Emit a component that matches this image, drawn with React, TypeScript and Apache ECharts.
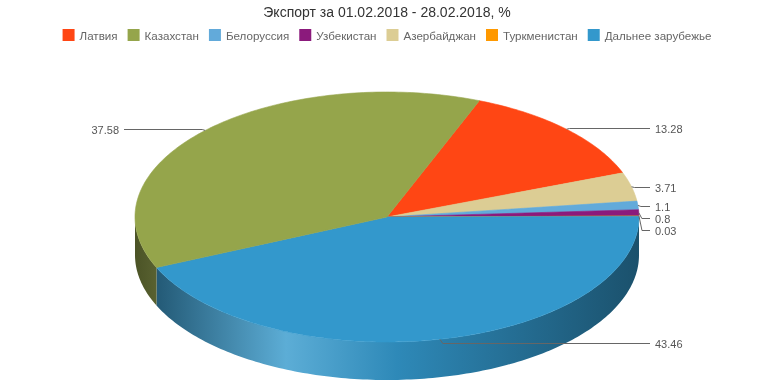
import React, { useEffect, useRef } from 'react';
import * as echarts from 'echarts';

const titleText = 'Экспорт за 01.02.2018 - 28.02.2018, %';
const legendNames = ['Латвия', 'Казахстан', 'Белоруссия', 'Узбекистан', 'Азербайджан', 'Туркменистан', 'Дальнее зарубежье'];
const legendColors = ['#FF4614', '#95A54B', '#62AADA', '#8B1A7C', '#DCCD94', '#FF9900', '#3398CC'];
// slices in the order they run clockwise around the pie
const sliceNames = ['Латвия', 'Азербайджан', 'Белоруссия', 'Узбекистан', 'Туркменистан', 'Дальнее зарубежье', 'Казахстан'];
const sliceValues = [13.28, 3.71, 1.1, 0.8, 0.03, 43.46, 37.58];

const FONT = '"Liberation Sans", Arial, Helvetica, sans-serif';
const CY = 217;
const RX = 252;
const RY = 125;
const DEPTH = 38;
const START_ANGLE = -68.5;
const LABEL_R = 128;
const LABEL_GAP = 12;

const colorOf = (name: string) => legendColors[legendNames.indexOf(name)];

function mix(hex: string, target: number, t: number) {
  const n = parseInt(hex.slice(1), 16);
  const r = (n >> 16) & 255, g = (n >> 8) & 255, b = n & 255;
  const f = (c: number) => Math.round(c + (target - c) * t);
  return `rgb(${f(r)},${f(g)},${f(b)})`;
}

export default function App() {
  const ref = useRef<HTMLDivElement>(null);
  useEffect(() => {
    if (!ref.current) return;
    const chart = echarts.init(ref.current, undefined, { renderer: 'svg' });
    const W = chart.getWidth();
    const CX = W / 2;
    const total = sliceValues.reduce((a, b) => a + b, 0);

    const pt = (deg: number, dy = 0) => {
      const r = (deg * Math.PI) / 180;
      return [CX + RX * Math.cos(r), CY + RY * Math.sin(r) + dy];
    };
    const arc = (a: number, b: number, dy = 0) => {
      const pts: number[][] = [];
      const n = Math.max(1, Math.ceil(Math.abs(b - a)));
      for (let k = 0; k <= n; k++) pts.push(pt(a + ((b - a) * k) / n, dy));
      return pts;
    };

    // slice angles
    const angles: { a: number; b: number; m: number }[] = [];
    let acc = START_ANGLE;
    sliceValues.forEach((v) => {
      const span = (v / total) * 360;
      angles.push({ a: acc, b: acc + span, m: acc + span / 2 });
      acc += span;
    });

    // label layout with overlap resolution
    const labels = angles.map((g, i) => {
      const r = (g.m * Math.PI) / 180;
      const right = Math.cos(r) >= 0;
      return { i, right, y: CY + 1 + LABEL_R * Math.sin(r), ex: CX + RX * Math.cos(r), ey: CY + RY * Math.sin(r) };
    });
    [true, false].forEach((side) => {
      const group = labels.filter((l) => l.right === side).sort((p, q) => p.y - q.y);
      for (let k = 1; k < group.length; k++) {
        if (group[k].y < group[k - 1].y + LABEL_GAP) group[k].y = group[k - 1].y + LABEL_GAP;
      }
    });
    const labelOf = (i: number) => labels.find((l) => l.i === i)!;

    const wallFill = (c: string) =>
      new echarts.graphic.LinearGradient(
        CX - RX, 0, CX + RX, 0,
        [
          { offset: 0, color: mix(c, 0, 0.5) },
          { offset: 0.3, color: mix(c, 255, 0.2) },
          { offset: 0.52, color: mix(c, 0, 0.1) },
          { offset: 0.82, color: mix(c, 0, 0.33) },
          { offset: 1, color: mix(c, 0, 0.47) },
        ],
        true
      );

    const series = sliceNames.map((name, i) => ({
      type: 'custom',
      name,
      coordinateSystem: 'none',
      data: [[sliceValues[i]]],
      itemStyle: { color: colorOf(name) },
      renderItem: (_params: any, api: any) => {
        const value = api.value(0);
        const color = colorOf(name);
        const { a } = angles[i];
        const b = a + (value / total) * 360;
        const children: any[] = [];
        // front side wall
        [[0, 180], [360, 540]].forEach(([f0, f1]) => {
          const s = Math.max(a, f0);
          const e = Math.min(b, f1);
          if (e > s) {
            const top = arc(s, e);
            const bottom = arc(e, s, DEPTH);
            children.push({
              type: 'polygon',
              z2: 1,
              shape: { points: top.concat(bottom) },
              style: { fill: wallFill(color), stroke: null },
            });
          }
        });
        // top face
        children.push({
          type: 'polygon',
          z2: 2,
          shape: { points: [[CX, CY]].concat(arc(a, b)) },
          style: { fill: color, stroke: color, lineWidth: 0.6 },
        });
        // label + connector
        const l = labelOf(i);
        const dir = l.right ? 1 : -1;
        const ly = Math.round(l.y) + 0.5;
        const endX = CX + dir * (RX + 11);
        children.push({
          type: 'polyline',
          z2: 50,
          shape: { points: [[l.ex, l.ey], [l.ex + dir * 3, ly], [endX, ly]] },
          style: { stroke: '#666666', lineWidth: 1, fill: null },
        });
        children.push({
          type: 'text',
          z2: 51,
          x: CX + dir * (RX + 16),
          y: ly,
          style: {
            text: String(value),
            fill: '#555555',
            font: `11px ${FONT}`,
            align: l.right ? 'left' : 'right',
            verticalAlign: 'middle',
          },
        });
        return { type: 'group', children };
      },
    }));

    chart.setOption({
      animation: false,
      title: {
        text: titleText,
        left: 'center',
        top: 0,
        textStyle: { fontSize: 14, fontWeight: 'normal', color: '#333333', fontFamily: FONT },
      },
      legend: {
        data: legendNames,
        top: 29,
        left: 'center',
        padding: 0,
        icon: 'rect',
        itemWidth: 12,
        itemHeight: 12,
        itemGap: 10,
        textStyle: { fontSize: 11.6, color: '#666666', fontFamily: FONT },
      },
      series,
    } as any);
    return () => chart.dispose();
  }, []);
  return <div ref={ref} style={{ position: 'fixed', left: 0, top: 0, width: 774, height: 387 }} />;
}
